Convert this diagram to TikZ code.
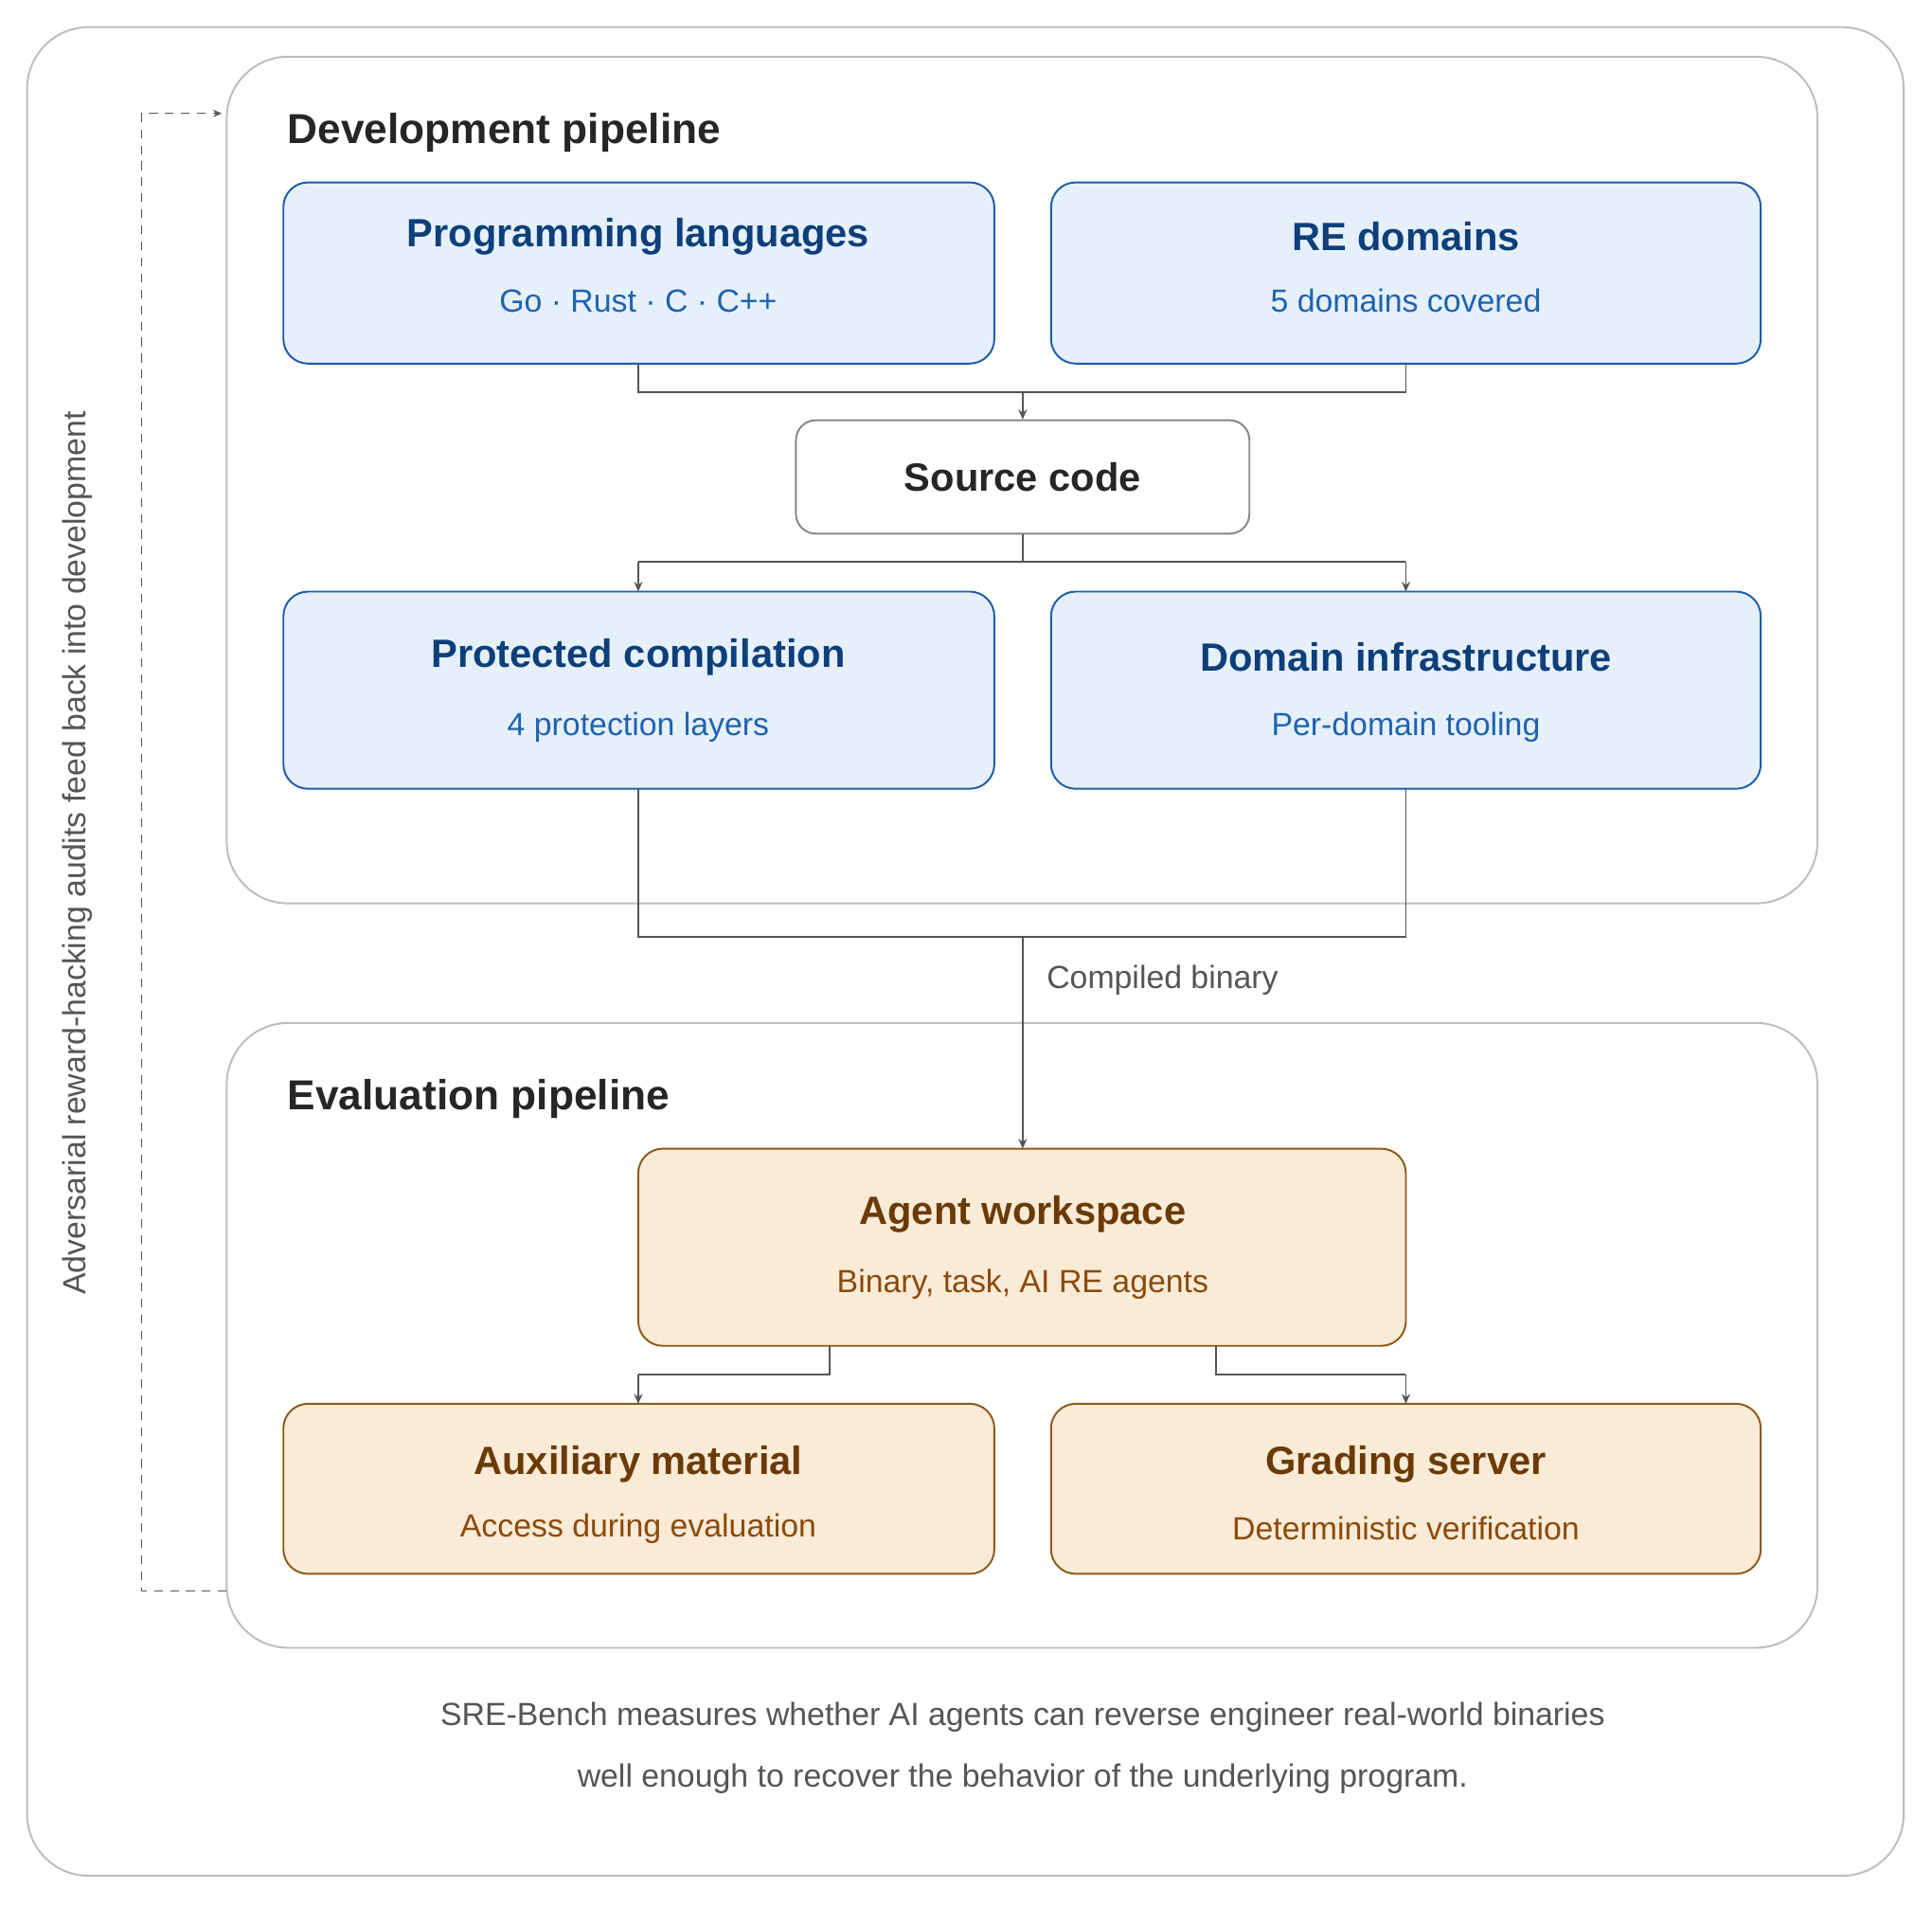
\documentclass[tikz,border=0pt]{standalone}
\usepackage{fontspec}
\setmainfont{Liberation Sans}
\usetikzlibrary{arrows.meta}
\definecolor{bfill}{HTML}{E6F0FA}
\definecolor{bdraw}{HTML}{1F5CA8}
\definecolor{btitle}{HTML}{0D3F7A}
\definecolor{bsub}{HTML}{1F63B0}
\definecolor{ofill}{HTML}{FAEBD7}
\definecolor{odraw}{HTML}{8B5A1A}
\definecolor{otitle}{HTML}{6B3A05}
\definecolor{osub}{HTML}{8B4A0A}
\definecolor{panel}{HTML}{BDBDBD}
\definecolor{conn}{HTML}{555555}
\tikzset{
 panelbox/.style={draw=panel,line width=1.5pt,rounded corners=50pt},
 bluebox/.style={draw=bdraw,fill=bfill,line width=1.5pt,rounded corners=20pt},
 orangebox/.style={draw=odraw,fill=ofill,line width=1.5pt,rounded corners=20pt},
 whitebox/.style={draw=conn!70,fill=white,line width=1.5pt,rounded corners=16pt},
 ttl/.style={font=\fontsize{32}{38}\selectfont\bfseries},
 sub/.style={font=\fontsize{26}{31}\selectfont},
 conn/.style={draw=conn,line width=1.5pt,-{Stealth[length=8pt,width=7pt,open]}},
 plain/.style={draw=conn,line width=1.5pt},
}
\begin{document}
\begin{tikzpicture}[x=1pt,y=-1pt]
\useasboundingbox (0,0) rectangle (1568,1545);
\fill[white] (0,0) rectangle (1568,1545);
\draw[panelbox] (22,22) rectangle (1545,1522);
\draw[panelbox] (184,46) rectangle (1475,733);
\draw[panelbox] (184,830) rectangle (1475,1337);
\node[anchor=west,font=\fontsize{34}{40}\selectfont\bfseries,text=black!85] (devt) at (230,108) {Development pipeline};
\node[anchor=west,font=\fontsize{34}{40}\selectfont\bfseries,text=black!85] (evt) at (230,892) {Evaluation pipeline};

% blue boxes
\draw[bluebox] (230,148) rectangle (807,295);
\draw[bluebox] (853,148) rectangle (1429,295);
\draw[bluebox] (230,480) rectangle (807,640);
\draw[bluebox] (853,480) rectangle (1429,640);
\coordinate (pl) at (518,295); \coordinate (re) at (1141,295);
\coordinate (pc) at (518,640); \coordinate (di) at (1141,640);
\node[ttl,text=btitle] (plt) at (518,192) {Programming languages};
\node[sub,text=bsub] (pls) at (518,244) {Go · Rust · C · C++};
\node[ttl,text=btitle] (ret) at (1141,192) {RE domains};
\node[sub,text=bsub] (res) at (1141,244) {5 domains covered};
\node[ttl,text=btitle] (pct) at (518,533) {Protected compilation};
\node[sub,text=bsub] (pcs) at (518,590) {4 protection layers};
\node[ttl,text=btitle] (dit) at (1141,533) {Domain infrastructure};
\node[sub,text=bsub] (dis) at (1141,590) {Per-domain tooling};

% source code
\node[whitebox,minimum width=368pt,minimum height=92pt,ttl,text=black!85] (src) at (830,387) {Source code};

% orange boxes
\draw[orangebox] (518,932) rectangle (1141,1092);
\draw[orangebox] (230,1139) rectangle (807,1277);
\draw[orangebox] (853,1139) rectangle (1429,1277);
\node[ttl,text=otitle] (agt) at (830,985) {Agent workspace};
\node[sub,text=osub] (ags) at (830,1042) {Binary, task, AI RE agents};
\node[ttl,text=otitle] (auxt) at (518,1188) {Auxiliary material};
\node[sub,text=osub] (auxs) at (518,1240) {Access during evaluation};
\node[ttl,text=otitle] (grt) at (1141,1188) {Grading server};
\node[sub,text=osub] (grs) at (1141,1240) {Deterministic verification};

% connectors
\draw[plain] (pl) -- (518,318) -- (1141,318) -- (re);
\draw[conn] (830,318) -- (src.north);
\draw[plain] (src.south) -- (830,456) -- (518,456);
\draw[plain] (830,456) -- (1141,456);
\draw[conn] (518,456) -- (518,480);
\draw[conn] (1141,456) -- (1141,480);
\draw[plain] (pc) -- (518,760) -- (1141,760) -- (di);
\draw[conn] (830,760) -- (830,932);
\node[sub,anchor=west,text=conn] (cb) at (846,795) {Compiled binary};
\draw[plain] (673,1092) -- (673,1115) -- (518,1115);
\draw[conn] (518,1115) -- (518,1139);
\draw[plain] (987,1092) -- (987,1115) -- (1141,1115);
\draw[conn] (1141,1115) -- (1141,1139);

% feedback
\draw[draw=conn,line width=1pt,dash pattern=on 7pt off 6pt,-{Stealth[length=7pt,width=6pt,open]}] (184,1291) -- (115,1291) -- (115,92) -- (180,92);
\node[sub,rotate=90,text=conn] (fb) at (63,692) {Adversarial reward-hacking audits feed back into development};

\node[sub,text=conn] (cap1) at (830,1393) {SRE-Bench measures whether AI agents can reverse engineer real-world binaries};
\node[sub,text=conn] (cap2) at (830,1443) {well enough to recover the behavior of the underlying program.};
\end{tikzpicture}
\end{document}
